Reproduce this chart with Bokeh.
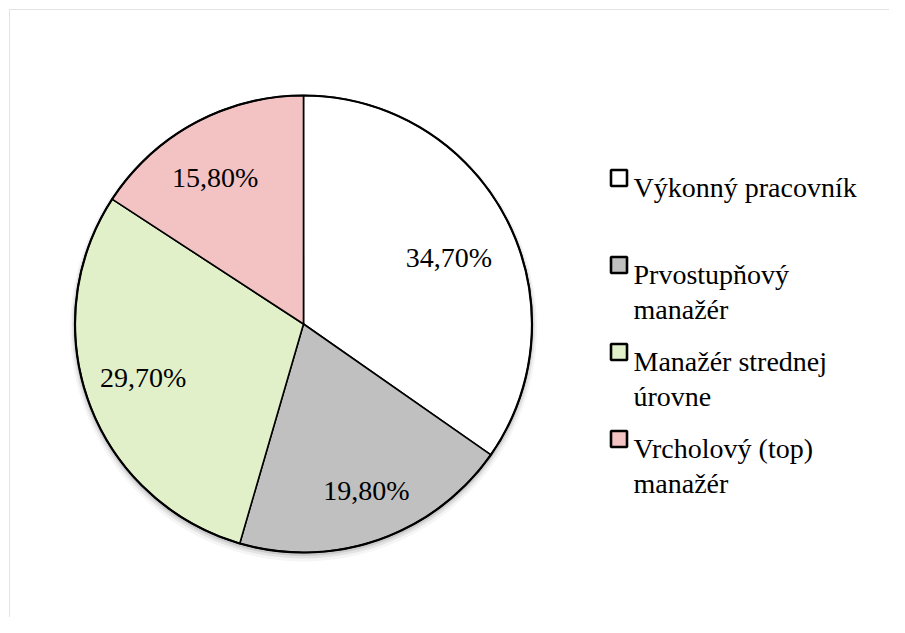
import math
from bokeh.plotting import figure
from bokeh.models import Range1d, ColumnDataSource, BoxAnnotation
from bokeh.core.properties import value
from bokeh.embed import file_html
from bokeh.resources import INLINE

# ---- data ----
categories = ["Výkonný pracovník", "Prvostupňový manažér", "Manažér strednej úrovne", "Vrcholový (top) manažér"]
legend_lines = [["Výkonný pracovník"], ["Prvostupňový", "manažér"], ["Manažér strednej", "úrovne"], ["Vrcholový (top)", "manažér"]]
shares = [34.7, 19.8, 29.7, 15.8]
label_texts = ["34,70%", "19,80%", "29,70%", "15,80%"]
colors = ["#ffffff", "#c0c0c0", "#e2f0c9", "#f3c3c3"]

# ---- layout (styles / positions) ----
W, H = 889, 617
CX, CY, R = 303, H - 323.5, 228.5
label_r_frac = [0.70, 0.78, 0.74, 0.75]
label_da_deg = [-2.9, 1.2, -1.8, 2.6]
FONT_NAME = "Liberation Serif"

p = figure(width=W, height=H, output_backend="svg", toolbar_location=None,
           x_range=Range1d(0, W), y_range=Range1d(0, H), min_border=0)
p.axis.visible = False
p.grid.visible = False
p.outline_line_color = None
p.background_fill_color = "white"
p.border_fill_color = "white"

# chart-area frame (only top and left edges fall inside the view)
p.add_layout(BoxAnnotation(left=9, right=W + 40, bottom=-40, top=H - 9,
                           fill_alpha=0, line_color="#a3a3a3", line_width=1))

total = sum(shares)
starts, ends, mids = [], [], []
cum = 0.0
for s in shares:
    a0 = math.pi / 2 - 2 * math.pi * (cum + s) / total
    a1 = math.pi / 2 - 2 * math.pi * cum / total
    starts.append(a0)
    ends.append(a1)
    mids.append((a0 + a1) / 2)
    cum += s

# soft shadow
for dr, dy, al in [(5, -4, 0.04), (3, -3, 0.07), (1.5, -2, 0.10)]:
    p.circle(x=[CX], y=[CY + dy], radius=R + dr, fill_color="black", fill_alpha=al, line_color=None)

src = ColumnDataSource(dict(start=starts, end=ends, color=colors, cat=categories))
p.wedge(x=CX, y=CY, radius=R, start_angle="start", end_angle="end", fill_color="color",
        line_color="black", line_width=1.6, source=src)
p.circle(x=[CX], y=[CY], radius=R, fill_color=None, line_color="black", line_width=2.2)

# data labels
lx = [CX + R * f * math.cos(m + math.radians(d)) for f, m, d in zip(label_r_frac, mids, label_da_deg)]
ly = [CY + R * f * math.sin(m + math.radians(d)) for f, m, d in zip(label_r_frac, mids, label_da_deg)]
p.text(x=lx, y=ly, text=label_texts, text_font=value(FONT_NAME), text_font_size="28px",
       text_align="center", text_baseline="middle", text_color="black")

# legend
SQ_X = 618.5
TX = 633
BASE0 = H - 186.5
ROW = 87
LINE = 35
sq_y, tx, ty, tt = [], [], [], []
for i, lines in enumerate(legend_lines):
    base = BASE0 - i * ROW
    sq_y.append(base + 9)
    for j, t in enumerate(lines):
        tx.append(TX)
        ty.append(base - j * LINE)
        tt.append(t)
p.text(x=tx, y=ty, text=tt, text_font=value(FONT_NAME), text_font_size="28px",
       text_baseline="alphabetic", text_color="black")
p.scatter(x=[SQ_X] * len(sq_y), y=sq_y, marker="square", size=16, fill_color=colors,
          line_color="black", line_width=2.6)

open("out.html", "w").write(file_html(p, INLINE))
